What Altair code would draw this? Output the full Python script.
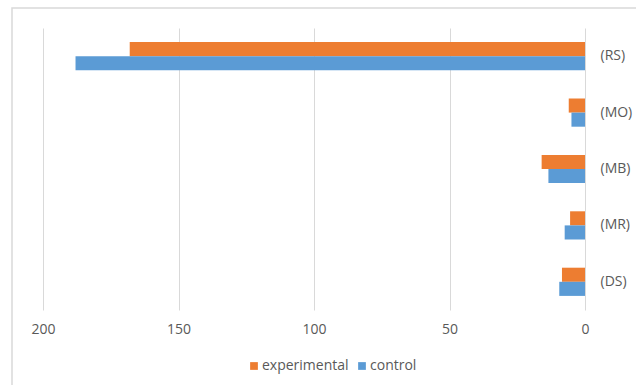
import altair as alt
import pandas as pd

categories = ["(RS)", "(MO)", "(MB)", "(MR)", "(DS)"]
series = ["experimental", "control"]
experimental = [168, 6, 16, 5.5, 8.5]
control = [188, 5, 13.5, 7.5, 9.5]
colors = ["#ED7D31", "#5B9BD5"]
x_ticks = [0, 50, 100, 150, 200]

rows = []
for c, e, k in zip(categories, experimental, control):
    rows.append({"cat": c, "series": "experimental", "value": e})
    rows.append({"cat": c, "series": "control", "value": k})
df = pd.DataFrame(rows)

FONT = "Open Sans"
TXT = "#595959"

bars = alt.Chart(df).mark_bar().encode(
    x=alt.X("value:Q",
            scale=alt.Scale(domain=[0, 200], reverse=True, nice=False),
            axis=alt.Axis(values=x_ticks, title=None, domain=False, ticks=False,
                          grid=True, gridColor="#d9d9d9", gridWidth=1,
                          labelFlush=False,
                          labelPadding=12, labelFontSize=14, labelColor=TXT,
                          labelFont=FONT)),
    y=alt.Y("cat:N", sort=categories,
            scale=alt.Scale(paddingInner=0.5, paddingOuter=0.25),
            axis=alt.Axis(orient="right", title=None, domain=False, ticks=False,
                          labelPadding=15, labelFontSize=14, labelColor=TXT,
                          labelFont=FONT)),
    yOffset=alt.YOffset("series:N", sort=series),
    color=alt.Color("series:N", sort=series,
                    scale=alt.Scale(domain=series, range=colors),
                    legend=alt.Legend(title=None, orient="none", direction="horizontal",
                                      legendX=204, legendY=331,
                                      symbolType="square", symbolSize=60,
                                      symbolStrokeWidth=0,
                                      labelFontSize=14, labelColor=TXT, labelFont=FONT,
                                      columnPadding=6, symbolOffset=0,
                                      labelOffset=1)),
)

border = alt.Chart(pd.DataFrame({"a": [0]})).mark_rect(
    fillOpacity=0, stroke="#d9d9d9", strokeWidth=1.5
).encode(
    x=alt.value(-31), x2=alt.value(600), y=alt.value(-20), y2=alt.value(365)
)

chart = alt.layer(border, bars).properties(
    width=542, height=282,
    autosize=alt.AutoSizeParams(type="none"),
    padding={"left": 43, "top": 28, "right": 51, "bottom": 75},
    background="white",
).configure_view(strokeWidth=0)

chart.save("out.html", embed_options={"renderer": "svg", "actions": False})
